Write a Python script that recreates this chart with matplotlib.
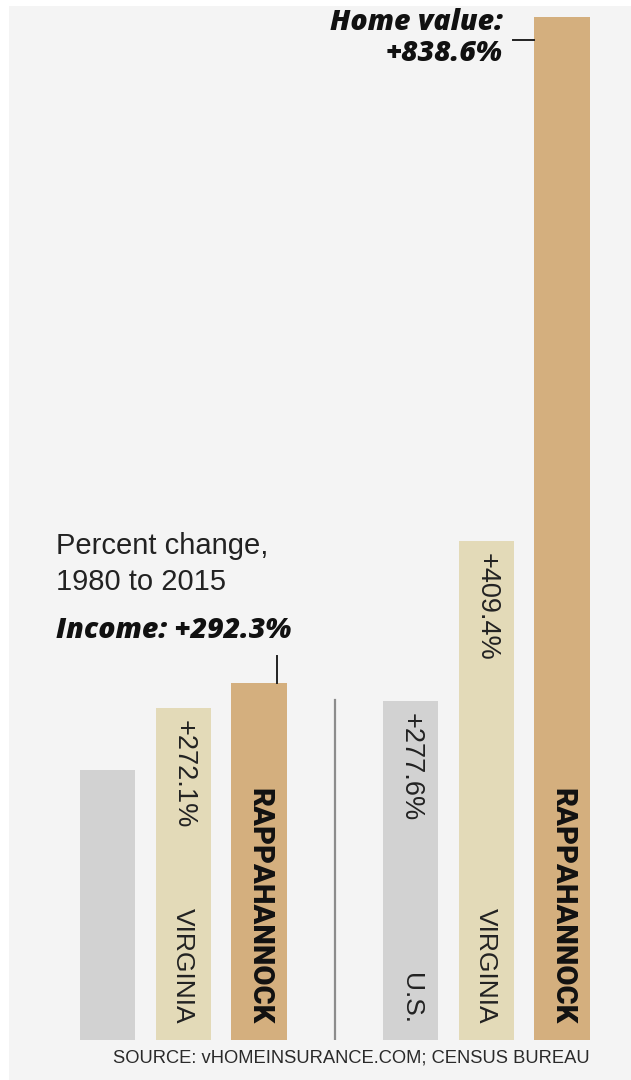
import matplotlib
matplotlib.use("Agg")
import matplotlib.pyplot as plt
from matplotlib.patches import Rectangle

# Data
income_labels = ["U.S.", "VIRGINIA", "RAPPAHANNOCK"]
income_values = [221.0, 272.1, 292.3]
home_labels = ["U.S.", "VIRGINIA", "RAPPAHANNOCK"]
home_values = [277.6, 409.4, 838.6]
income_pct_text = ["", "+272.1%", ""]
home_pct_text = ["+277.6%", "+409.4%", ""]
colors = ["#d2d2d2", "#e3dab8", "#d4af7e"]

W, H = 631, 1080
fig = plt.figure(figsize=(W / 100, H / 100), dpi=100)
fig.patch.set_facecolor("white")
fig.patches.append(Rectangle((9 / W, 0), 1 - 9 / W, 1 - 6 / H, transform=fig.transFigure,
                             facecolor="#f4f4f4", edgecolor="none", zorder=-5))

px_per_unit = 75.75
x0_px = 107.5
base_px = 1040
top_px = 17
ax = fig.add_axes([0, (H - base_px) / H, 1, (base_px - top_px) / H])
ax.set_zorder(1)
ax.set_facecolor("none")
ax.set_xlim(-x0_px / px_per_unit, (W - x0_px) / px_per_unit)
ax.set_ylim(0, home_values[2])
ax.axis("off")

income_x = [0, 1, 2]
home_x = [4, 5, 6]
bw = 0.73
ax.bar(income_x, income_values, width=bw, color=colors, zorder=2)
ax.bar(home_x, home_values, width=bw, color=colors, zorder=2)

# divider
ax.plot([3, 3], [0, 278.5], color="#8c8c8c", lw=1.6, zorder=2)

unit = home_values[2] / (base_px - top_px)  # data units per px
narrow = ["Liberation Sans Narrow", "Liberation Sans"]

def labels(xs, vals, names, pcts):
    for x, v, n, p in zip(xs, vals, names, pcts):
        if n == "RAPPAHANNOCK":
            ax.text(x, 16 * unit, n, rotation=-90, ha="center", va="bottom",
                    fontsize=21, fontweight="heavy", family=["Roboto", "Liberation Sans"],
                    color="#111111", zorder=3)
        elif n:
            ax.text(x, 16 * unit, n, rotation=-90, ha="center", va="bottom",
                    fontsize=19, family=narrow, color="#222222", zorder=3)
        if p:
            ax.text(x, v - 12 * unit, p, rotation=-90, ha="center", va="top",
                    fontsize=19.5, family=narrow, color="#222222", zorder=3)

labels(income_x, income_values, ["", "VIRGINIA", "RAPPAHANNOCK"], income_pct_text)
labels(home_x, home_values, home_labels, home_pct_text)

# Income leader line
ax.plot([2.24, 2.24], [income_values[2], income_values[2] + 27 * unit], color="#222222", lw=1.4, zorder=3)
# Home leader line
ax.plot([5.35, 6 - bw / 2], [home_values[2] - 23 * unit] * 2, color="#222222", lw=1.4, zorder=3)

# Annotations (figure pixel coordinates)
def fx(px): return px / W
def fy(py): return 1 - py / H

heavy = ["Open Sans", "Liberation Sans"]
fig.text(fx(56), fy(532), "Percent change,\n1980 to 2015", ha="left", va="top",
         fontsize=21, family=["Liberation Sans"], color="#222222", linespacing=1.38)
fig.text(fx(56), fy(616), "Income: +292.3%", ha="left", va="top",
         fontsize=20.5, fontweight="heavy", style="italic", family=heavy, color="#111111")
fig.text(fx(503), fy(8), "Home value:\n+838.6%", ha="right", va="top",
         fontsize=20.5, fontweight="heavy", style="italic", family=heavy, color="#111111",
         linespacing=1.1, multialignment="right")
fig.text(fx(113), fy(1058), "SOURCE: vHOMEINSURANCE.COM; CENSUS BUREAU", ha="left", va="center",
         fontsize=13.2, family=narrow, color="#2a2a2a")

fig.savefig("out.png", dpi=100, facecolor=fig.get_facecolor())
